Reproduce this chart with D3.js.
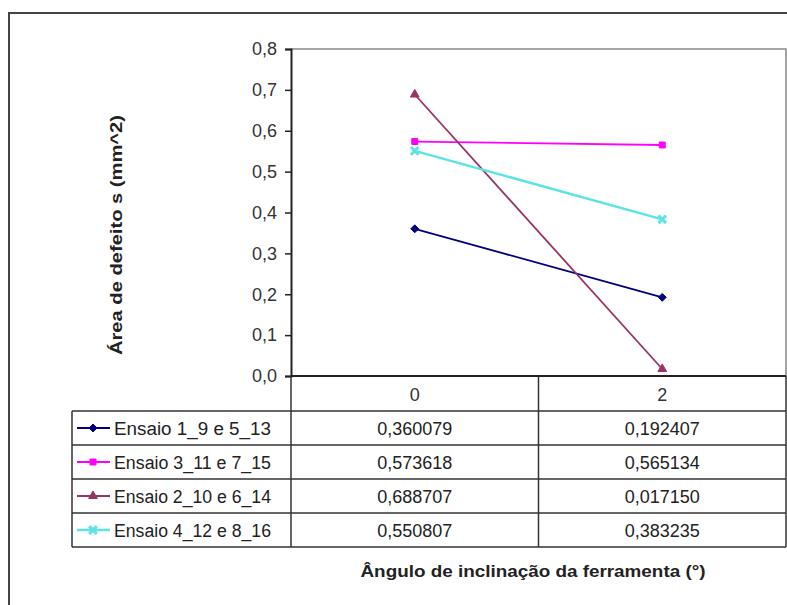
<!DOCTYPE html>
<html>
<head>
<meta charset="utf-8">
<script src="https://cdn.jsdelivr.net/npm/d3@7/dist/d3.min.js"></script>
<style>
  html, body { margin: 0; padding: 0; background: #fff; }
  svg { display: block; font-family: "Liberation Sans", Arial, sans-serif; }
</style>
</head>
<body>
<svg id="chart" width="787" height="605"></svg>
<script>
// Categories on the x axis (tool inclination angle, degrees)
const categories = ["0", "2"];

// Series names, in table order
const seriesNames = [
  "Ensaio 1_9 e 5_13",
  "Ensaio 3_11 e 7_15",
  "Ensaio 2_10 e 6_14",
  "Ensaio 4_12 e 8_16"
];

// Defect area (mm^2) for each series, one value per category
const ensaio1_9_5_13 = [0.360079, 0.192407];
const ensaio3_11_7_15 = [0.573618, 0.565134];
const ensaio2_10_6_14 = [0.688707, 0.017150];
const ensaio4_12_8_16 = [0.550807, 0.383235];

// Y axis tick values
const yTicks = [0, 0.1, 0.2, 0.3, 0.4, 0.5, 0.6, 0.7, 0.8];

const seriesValues = [ensaio1_9_5_13, ensaio3_11_7_15, ensaio2_10_6_14, ensaio4_12_8_16];
const seriesColors = ["#000080", "#ff00ff", "#993366", "#5ee3e3"];
const seriesSymbols = [d3.symbolDiamond2, d3.symbolSquare2, d3.symbolTriangle2, d3.symbolX];
const symbolSizes = [40, 45, 55, 40];

const svg = d3.select("#chart");
const FONT = 18;

// Plot frame
const plot = { left: 291, right: 786, top: 49, bottom: 376 };
const table = { left: 72, headerBottom: 411, rowH: 34 };

const x = d3.scaleBand().domain(categories).range([plot.left, plot.right]);
const y = d3.scaleLinear().domain([0, 0.8]).range([plot.bottom, plot.top]);

const fmtTick = d => d3.format(".1f")(d).replace(".", ",");
const fmtVal = d => d3.format(".6f")(d).replace(".", ",");

// Outer chart border
svg.append("rect")
  .attr("x", 9).attr("y", 13).attr("width", 820).attr("height", 640)
  .attr("fill", "none").attr("stroke", "#444").attr("stroke-width", 2);

// Plot area top/right border
svg.append("path")
  .attr("d", `M${plot.left},${plot.top}H${plot.right}V${plot.bottom}`)
  .attr("fill", "none").attr("stroke", "#888").attr("stroke-width", 1.5);

// Y axis
const yAxis = svg.append("g")
  .attr("transform", `translate(${plot.left},0)`)
  .call(d3.axisLeft(y).tickValues(yTicks).tickFormat(fmtTick).tickSizeOuter(0).tickSize(6).tickPadding(8));
yAxis.select(".domain").attr("stroke", "#222").attr("stroke-width", 2);
yAxis.selectAll(".tick line").attr("stroke", "#222").attr("stroke-width", 1.5);
yAxis.selectAll(".tick text")
  .attr("font-size", FONT).attr("fill", "#333")
  .attr("font-family", "'Liberation Sans', Arial, sans-serif");

// Y axis title
svg.append("text")
  .attr("transform", `translate(122,235) rotate(-90)`)
  .attr("text-anchor", "middle")
  .attr("font-size", 17).attr("font-weight", "bold").attr("fill", "#222")
  .attr("textLength", 240).attr("lengthAdjust", "spacingAndGlyphs")
  .text("Área de defeito s (mm^2)");

// Lines and markers
const line = d3.line().x((d, i) => x(categories[i]) + x.bandwidth() / 2).y(d => y(d));
seriesValues.forEach((vals, s) => {
  svg.append("path")
    .attr("d", line(vals))
    .attr("fill", "none")
    .attr("stroke", seriesColors[s])
    .attr("stroke-width", s === 3 ? 2.5 : 1.8);
  vals.forEach((v, i) => {
    const sym = d3.symbol().type(seriesSymbols[s]).size(symbolSizes[s]);
    const isStroke = seriesSymbols[s] === d3.symbolX;
    svg.append("path")
      .attr("d", sym())
      .attr("transform", `translate(${x(categories[i]) + x.bandwidth() / 2},${y(v)})`)
      .attr("fill", isStroke ? "none" : seriesColors[s])
      .attr("stroke", seriesColors[s])
      .attr("stroke-width", isStroke ? 3 : 1);
  });
});

// Data table under the plot
const tableBottom = table.headerBottom + table.rowH * seriesNames.length;
const gT = svg.append("g").attr("stroke", "#333").attr("stroke-width", 1.5);

// Horizontal rules
gT.append("line").attr("x1", table.left).attr("x2", plot.right)
  .attr("y1", table.headerBottom).attr("y2", table.headerBottom);
seriesNames.forEach((n, r) => {
  const yy = table.headerBottom + table.rowH * (r + 1);
  gT.append("line").attr("x1", table.left).attr("x2", plot.right).attr("y1", yy).attr("y2", yy);
});
// Vertical rules
gT.append("line").attr("x1", table.left).attr("x2", table.left)
  .attr("y1", table.headerBottom).attr("y2", tableBottom);
categories.forEach(c => {
  gT.append("line").attr("x1", x(c)).attr("x2", x(c))
    .attr("y1", plot.bottom).attr("y2", tableBottom);
});
gT.append("line").attr("x1", plot.right).attr("x2", plot.right)
  .attr("y1", plot.bottom).attr("y2", tableBottom);

// X axis line (drawn over the table top)
svg.append("line")
  .attr("x1", plot.left).attr("x2", plot.right)
  .attr("y1", plot.bottom).attr("y2", plot.bottom)
  .attr("stroke", "#222").attr("stroke-width", 2.2);

// Header row: category labels
categories.forEach(c => {
  svg.append("text")
    .attr("x", x(c) + x.bandwidth() / 2)
    .attr("y", (plot.bottom + table.headerBottom) / 2 + 7)
    .attr("text-anchor", "middle")
    .attr("font-size", FONT).attr("fill", "#333")
    .text(c);
});

// Data rows
seriesNames.forEach((name, r) => {
  const cy = table.headerBottom + table.rowH * r + table.rowH / 2;
  // legend key
  svg.append("line")
    .attr("x1", 77).attr("x2", 110).attr("y1", cy).attr("y2", cy)
    .attr("stroke", seriesColors[r]).attr("stroke-width", r === 3 ? 2.5 : 1.8);
  const isStroke = seriesSymbols[r] === d3.symbolX;
  svg.append("path")
    .attr("d", d3.symbol().type(seriesSymbols[r]).size(symbolSizes[r])())
    .attr("transform", `translate(93,${cy})`)
    .attr("fill", isStroke ? "none" : seriesColors[r])
    .attr("stroke", seriesColors[r])
    .attr("stroke-width", isStroke ? 3 : 1);
  svg.append("text")
    .attr("x", 114).attr("y", cy + 7)
    .attr("font-size", FONT).attr("fill", "#222")
    .attr("textLength", 157).attr("lengthAdjust", "spacingAndGlyphs")
    .text(name);
  seriesValues[r].forEach((v, i) => {
    svg.append("text")
      .attr("x", x(categories[i]) + x.bandwidth() / 2)
      .attr("y", cy + 7)
      .attr("text-anchor", "middle")
      .attr("font-size", FONT).attr("fill", "#222")
      .text(fmtVal(v));
  });
});

// X axis title
svg.append("text")
  .attr("x", 533).attr("y", 577)
  .attr("text-anchor", "middle")
  .attr("font-size", 17).attr("font-weight", "bold").attr("fill", "#222")
  .attr("textLength", 345).attr("lengthAdjust", "spacingAndGlyphs")
  .text("Ângulo de inclinação da ferramenta (°)");
</script>
</body>
</html>
